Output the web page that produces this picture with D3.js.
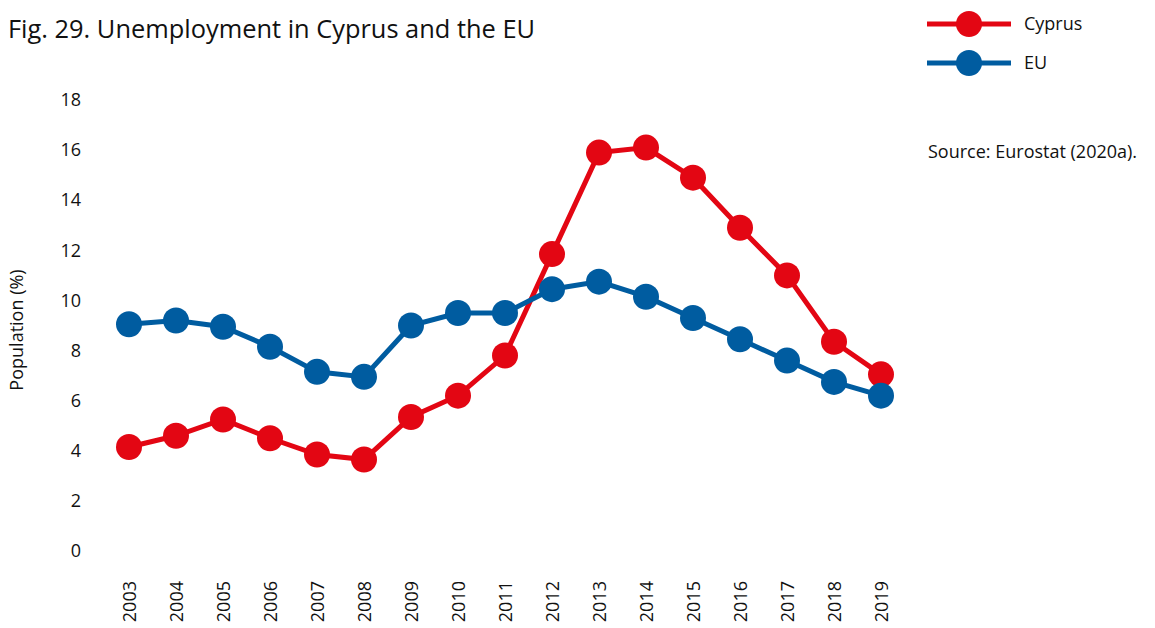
<!DOCTYPE html>
<html>
<head>
<meta charset="utf-8">
<script src="https://cdn.jsdelivr.net/npm/d3@7"></script>
<style>
  body { margin: 0; background: #fff; }
  svg { font-family: "Open Sans", "Noto Sans", sans-serif; }
</style>
</head>
<body>
<div id="chart"></div>
<script>
// values (unemployment rate, %)
var years = [2003, 2004, 2005, 2006, 2007, 2008, 2009, 2010, 2011, 2012, 2013, 2014, 2015, 2016, 2017, 2018, 2019];
var cyprus = [4.15, 4.6, 5.25, 4.5, 3.85, 3.65, 5.35, 6.2, 7.8, 11.85, 15.9, 16.1, 14.9, 12.9, 11.0, 8.35, 7.05];
var eu = [9.05, 9.2, 8.95, 8.15, 7.15, 6.95, 9.0, 9.5, 9.5, 10.45, 10.75, 10.15, 9.3, 8.45, 7.6, 6.75, 6.2];
var yTicks = [0, 2, 4, 6, 8, 10, 12, 14, 16, 18];

var red = "#e30613", blue = "#005ca0";

var width = 1155, height = 628;
var svg = d3.select("#chart").append("svg")
    .attr("width", width)
    .attr("height", height);

var x = d3.scalePoint()
    .domain(years)
    .range([129, 881]);

var y = d3.scaleLinear()
    .domain([0, 18])
    .range([551, 100]);

// title
svg.append("text")
    .attr("x", 8)
    .attr("y", 38)
    .style("font-size", "25.4px")
    .attr("fill", "#111")
    .text("Fig. 29. Unemployment in Cyprus and the EU");

// y axis (labels only)
svg.append("g")
    .attr("transform", "translate(88,0)")
    .call(d3.axisLeft(y).tickValues(yTicks).tickSize(0).tickPadding(7))
    .call(function (g) { g.select(".domain").remove(); })
    .selectAll("text")
    .style("font-size", "18px")
    .style("font-family", "'Open Sans', sans-serif")
    .attr("fill", "#111");

svg.append("text")
    .attr("transform", "translate(23,330) rotate(-90)")
    .style("text-anchor", "middle")
    .style("font-size", "18px")
    .attr("fill", "#111")
    .text("Population (%)");

// x axis labels, rotated
svg.append("g")
    .attr("transform", "translate(0,574)")
    .call(d3.axisBottom(x).tickSize(0).tickPadding(0))
    .call(function (g) { g.select(".domain").remove(); })
    .selectAll("text")
    .style("font-size", "18px")
    .style("font-family", "'Open Sans', sans-serif")
    .attr("fill", "#111")
    .attr("transform", "rotate(-90)")
    .attr("x", -7)
    .attr("y", 0)
    .attr("dy", "0.35em")
    .style("text-anchor", "end");

var line = d3.line()
    .x(function (d, i) { return x(years[i]); })
    .y(function (d) { return y(d); });

function drawSeries(values, colour) {
  svg.append("path")
      .datum(values)
      .attr("fill", "none")
      .attr("stroke", colour)
      .attr("stroke-width", 5)
      .attr("d", line);
  svg.append("g")
      .selectAll("circle")
      .data(values)
      .join("circle")
      .attr("cx", function (d, i) { return x(years[i]); })
      .attr("cy", function (d) { return y(d); })
      .attr("r", 13)
      .attr("fill", colour);
}

drawSeries(cyprus, red);
drawSeries(eu, blue);

// legend
var legend = [{ name: "Cyprus", colour: red }, { name: "EU", colour: blue }];
var lg = svg.append("g").selectAll("g")
    .data(legend)
    .join("g")
    .attr("transform", function (d, i) { return "translate(927," + (24 + i * 39) + ")"; });
lg.append("line")
    .attr("x1", 0).attr("x2", 84)
    .attr("stroke", function (d) { return d.colour; })
    .attr("stroke-width", 5);
lg.append("circle")
    .attr("cx", 42)
    .attr("r", 13)
    .attr("fill", function (d) { return d.colour; });
lg.append("text")
    .attr("x", 97)
    .attr("dy", "0.35em")
    .style("font-size", "18px")
    .attr("fill", "#111")
    .text(function (d) { return d.name; });

svg.append("text")
    .attr("x", 928)
    .attr("y", 158)
    .style("font-size", "18px")
    .attr("fill", "#111")
    .text("Source: Eurostat (2020a).");
</script>
</body>
</html>
